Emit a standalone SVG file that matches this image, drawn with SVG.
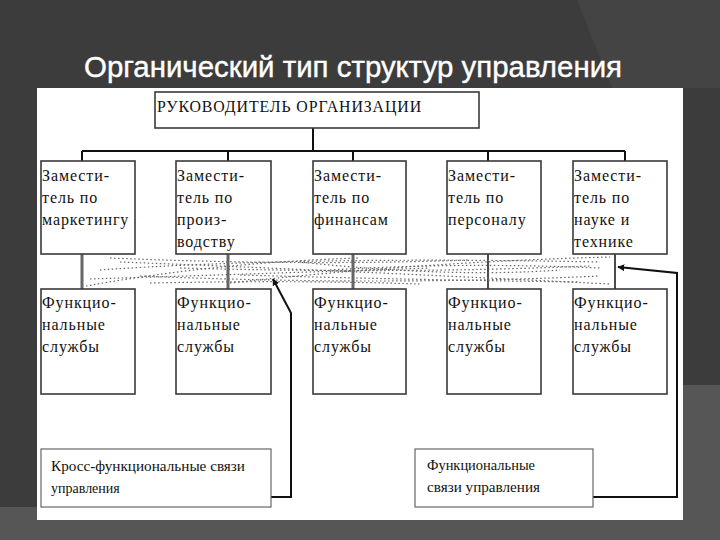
<svg xmlns="http://www.w3.org/2000/svg" width="720" height="540" viewBox="0 0 720 540">
<defs>
<style>
.box{fill:#fff;stroke:#3a3a3a;stroke-width:1.6}
.t{font-family:"Liberation Serif","Times New Roman",serif;font-size:16px;fill:#111;letter-spacing:0.9px}
.s{font-family:"Liberation Serif","Times New Roman",serif;font-size:14px;fill:#111}
.ln{fill:none;stroke:#111;stroke-width:2}
.gl{fill:none;stroke:#666;stroke-width:3}
.dn{fill:none;stroke:#666;stroke-width:1.2;stroke-dasharray:1.5 2.5}
.ar{fill:none;stroke:#111;stroke-width:2}
</style>
<marker id="ah" viewBox="0 0 10 10" refX="9" refY="5" markerWidth="7" markerHeight="7" orient="auto" markerUnits="userSpaceOnUse">
<path d="M0,0 L10,5 L0,10 Z" fill="#111"/>
</marker>
</defs>
<rect width="720" height="540" fill="#3c3c3c"/>
<polygon points="577,0 720,0 720,88 612,88" fill="#444"/>
<rect x="0" y="507" width="720" height="33" fill="#565656"/>
<rect x="683" y="385" width="37" height="155" fill="#565656"/>
<text x="84" y="77" font-family="Liberation Sans, Arial, sans-serif" font-size="29" fill="#fff" stroke="#fff" stroke-width="0.4" textLength="538" lengthAdjust="spacingAndGlyphs">Органический тип структур управления</text>
<rect x="37" y="88" width="646" height="432" fill="#fff"/>

<g id="connectors">
<path class="ln" d="M313,128 V151 M82,151 H625 M82,151 V161 M228,151 V161 M353,151 V161 M488,151 V161 M625,151 V161"/>
<path class="gl" d="M82,254 V289 M228,254 V289 M353,254 V289"/>
<path class="ln" style="stroke-width:1.5" d="M488,254 V289 M615,254 V289"/>
<g id="cross-band">
<path class="dn" d="M86,286 Q220,262 360,258"/>
<path class="dn" d="M120,262 Q330,270 610,284"/>
<path class="dn" d="M100,270 Q300,256 600,262"/>
<path class="dn" d="M140,276 Q380,286 600,276"/>
<path class="dn" d="M230,283 Q420,262 610,257"/>
<path class="dn" d="M300,262 Q450,278 560,270"/>
<path class="dn" d="M90,279 Q250,274 430,268"/>
<path class="dn" d="M110,258 Q300,266 470,260"/>
<path class="dn" d="M180,268 Q400,274 590,266"/>
<path class="dn" d="M240,275 Q420,280 580,282"/>
<path class="dn" d="M330,270 Q460,262 600,268"/>
<path class="dn" d="M150,283 Q300,280 420,284"/>
</g>
<path class="ar" marker-end="url(#ah)" d="M271,497 H291 V313 L273,279"/>
<path class="ar" marker-end="url(#ah)" d="M593,497 H677 V273 L618,267"/>
</g>

<g id="head">
<rect class="box" x="155" y="92" width="324" height="36"/>
<text class="t" x="157" y="112" font-size="17" textLength="265" lengthAdjust="spacingAndGlyphs">РУКОВОДИТЕЛЬ ОРГАНИЗАЦИИ</text>
</g>

<g id="dep1">
<rect class="box" x="41" y="161" width="94" height="93"/>
<text class="t" x="42" y="181">Замести-</text>
<text class="t" x="42" y="203">тель по</text>
<text class="t" x="42" y="225">маркетингу</text>
</g>
<g id="dep2">
<rect class="box" x="176" y="161" width="95" height="93"/>
<text class="t" x="177" y="181">Замести-</text>
<text class="t" x="177" y="203">тель по</text>
<text class="t" x="177" y="225">произ-</text>
<text class="t" x="177" y="247">водству</text>
</g>
<g id="dep3">
<rect class="box" x="313" y="161" width="93" height="93"/>
<text class="t" x="314" y="181">Замести-</text>
<text class="t" x="314" y="203">тель по</text>
<text class="t" x="314" y="225">финансам</text>
</g>
<g id="dep4">
<rect class="box" x="447" y="161" width="94" height="93"/>
<text class="t" x="448" y="181">Замести-</text>
<text class="t" x="448" y="203">тель по</text>
<text class="t" x="448" y="225">персоналу</text>
</g>
<g id="dep5">
<rect class="box" x="573" y="161" width="94" height="93"/>
<text class="t" x="574" y="181">Замести-</text>
<text class="t" x="574" y="203">тель по</text>
<text class="t" x="574" y="225">науке и</text>
<text class="t" x="574" y="247">технике</text>
</g>

<g id="fs1">
<rect class="box" x="41" y="289" width="94" height="105"/>
<text class="t" x="42" y="308">Функцио-</text>
<text class="t" x="42" y="330">нальные</text>
<text class="t" x="42" y="352">службы</text>
</g>
<g id="fs2">
<rect class="box" x="176" y="289" width="95" height="105"/>
<text class="t" x="177" y="308">Функцио-</text>
<text class="t" x="177" y="330">нальные</text>
<text class="t" x="177" y="352">службы</text>
</g>
<g id="fs3">
<rect class="box" x="313" y="289" width="93" height="105"/>
<text class="t" x="314" y="308">Функцио-</text>
<text class="t" x="314" y="330">нальные</text>
<text class="t" x="314" y="352">службы</text>
</g>
<g id="fs4">
<rect class="box" x="447" y="289" width="94" height="105"/>
<text class="t" x="448" y="308">Функцио-</text>
<text class="t" x="448" y="330">нальные</text>
<text class="t" x="448" y="352">службы</text>
</g>
<g id="fs5">
<rect class="box" x="573" y="289" width="94" height="105"/>
<text class="t" x="574" y="308">Функцио-</text>
<text class="t" x="574" y="330">нальные</text>
<text class="t" x="574" y="352">службы</text>
</g>

<g id="legend-cross">
<rect class="box" x="41" y="449" width="230" height="58" style="stroke:#666;stroke-width:1.2"/>
<text class="s" x="51" y="471" textLength="194" lengthAdjust="spacingAndGlyphs">Кросс-функциональные связи</text>
<text class="s" x="51" y="493">управления</text>
</g>
<g id="legend-func">
<rect class="box" x="415" y="449" width="178" height="58" style="stroke:#666;stroke-width:1.2"/>
<text class="s" x="427" y="470" textLength="108" lengthAdjust="spacingAndGlyphs">Функциональные</text>
<text class="s" x="427" y="492" textLength="113" lengthAdjust="spacingAndGlyphs">связи управления</text>
</g>
</svg>
